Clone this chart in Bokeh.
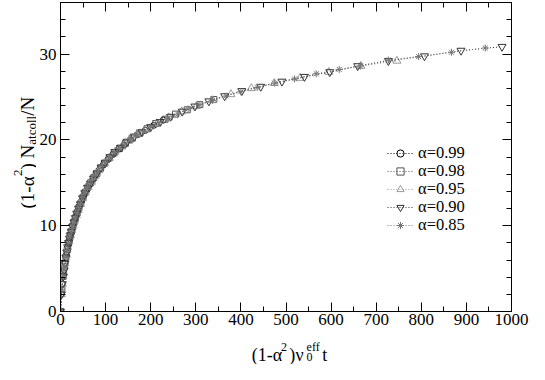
import math
from bokeh.plotting import figure
from bokeh.layouts import row, column
from bokeh.models import LinearAxis, FixedTicker, Range1d, Label, Legend, LegendItem
from bokeh.embed import file_html
from bokeh.resources import INLINE

# ---------------- data ----------------
series_labels = ["α=0.99", "α=0.98", "α=0.95", "α=0.90", "α=0.85"]

x99 = [0, 2, 4, 7, 10, 13, 16, 19, 22, 25, 28, 31, 34, 38, 42, 47, 52, 58, 64, 71,
       78, 86, 95, 105, 116, 128, 141, 155, 171, 188, 207, 228]
y99 = [0, 2.0, 3.2, 4.5, 5.6, 6.6, 7.5, 8.2, 8.9, 9.5, 10.0, 10.6, 11.1, 11.7, 12.3, 12.9,
       13.5, 14.1, 14.7, 15.3, 15.9, 16.5, 17.1, 17.7, 18.3, 18.9, 19.4, 20.0, 20.6, 21.1,
       21.7, 22.3]

x98 = [0, 3, 6, 9, 12, 15, 18, 21, 24, 27, 30, 33, 37, 41, 45, 50, 55, 61, 67, 74, 81,
       89, 98, 108, 119, 131, 144, 159, 175, 192, 211, 232, 255, 281, 309, 340]
y98 = [0, 2.6, 4.1, 5.2, 6.3, 7.2, 8.0, 8.7, 9.3, 9.9, 10.4, 10.9, 11.5, 12.1, 12.6, 13.3,
       13.9, 14.5, 15.0, 15.6, 16.1, 16.7, 17.3, 17.9, 18.5, 19.0, 19.6, 20.2, 20.8, 21.3,
       21.9, 22.4, 23.0, 23.5, 24.1, 24.7]

x95 = [0, 2, 4, 7, 10, 13, 16, 19, 22, 25, 28, 31, 35, 39, 44, 49, 55, 61, 69, 77, 86,
       97, 108, 121, 136, 152, 170, 191, 214, 240, 269, 301, 337, 378, 423, 474, 531, 595,
       666, 746]
y95 = [0, 2.0, 3.2, 4.5, 5.6, 6.6, 7.5, 8.2, 8.9, 9.5, 10.0, 10.6, 11.2, 11.8, 12.5, 13.2,
       13.9, 14.5, 15.1, 15.8, 16.5, 17.2, 17.9, 18.6, 19.2, 19.9, 20.6, 21.2, 21.9, 22.6,
       23.3, 23.9, 24.6, 25.3, 26.0, 26.6, 27.2, 27.9, 28.6, 29.2]

x90 = [0, 2, 4, 6, 8, 10, 12, 14, 16, 18, 20, 22, 24, 27, 30, 33, 36, 40, 44, 49, 54, 60,
       66, 73, 81, 90, 99, 110, 121, 134, 148, 164, 181, 200, 221, 244, 270, 298, 329, 364,
       402, 444, 491, 541, 597, 659, 727, 807, 888, 979]
y90 = [0, 2.0, 3.2, 4.1, 4.8, 5.6, 6.3, 6.9, 7.5, 8.0, 8.5, 8.9, 9.3, 9.9, 10.4, 10.9,
       11.4, 12.0, 12.5, 13.2, 13.8, 14.4, 14.9, 15.5, 16.1, 16.8, 17.3, 18.0, 18.6, 19.1,
       19.8, 20.4, 20.9, 21.5, 22.1, 22.7, 23.3, 23.9, 24.5, 25.1, 25.7, 26.2, 26.8, 27.35,
       27.9, 28.6, 29.2, 29.75, 30.4, 30.85]

x85 = [0, 3, 6, 9, 12, 15, 18, 21, 24, 27, 30, 33, 37, 41, 45, 50, 55, 60, 65, 71, 77,
       84, 92, 100, 109, 119, 130, 142, 155, 169, 184, 200, 218, 238, 260, 283, 309, 337,
       367, 400, 436, 475, 519, 567, 618, 665, 727, 794, 867, 942]
y85 = [0, 2.6, 4.1, 5.2, 6.3, 7.2, 8.0, 8.7, 9.3, 9.9, 10.4, 10.9, 11.5, 12.1, 12.6, 13.3,
       13.9, 14.4, 14.9, 15.4, 15.9, 16.4, 16.9, 17.4, 17.9, 18.5, 19.0, 19.5, 20.0, 20.6,
       21.0, 21.5, 22.0, 22.5, 23.0, 23.6, 24.1, 24.6, 25.1, 25.6, 26.1, 26.6, 27.1, 27.7,
       28.2, 28.6, 29.3, 29.7, 30.2, 30.7]

x_major = [0, 100, 200, 300, 400, 500, 600, 700, 800, 900, 1000]
x_minor = [50, 150, 250, 350, 450, 550, 650, 750, 850, 950]
y_major = [0, 10, 20, 30]
y_minor = [2, 4, 6, 8, 12, 14, 16, 18, 22, 24, 26, 28, 32, 34, 36]

# ---------------- layout ----------------
FONT = "Liberation Serif"
TOTAL_W, TOTAL_H = 529, 364
YT_W = 36                      # width of the y-title strip
MAIN_W = TOTAL_W - YT_W
MAIN_H = 334
XT_H = TOTAL_H - MAIN_H        # height of the x-title strip
EST_FRAME_BOTTOM = MAIN_H - 25  # expected picture y of the x axis

p = figure(width=MAIN_W, height=MAIN_H,
           x_range=Range1d(0, 1000), y_range=Range1d(0, 36),
           output_backend="svg", toolbar_location=None,
           min_border_left=22, min_border_right=18,
           min_border_top=2, min_border_bottom=23,
           background_fill_color="white", border_fill_color="white")
p.xgrid.visible = False
p.ygrid.visible = False
p.outline_line_color = "black"
p.outline_line_width = 1

xt = FixedTicker(ticks=x_major, minor_ticks=x_minor)
yt = FixedTicker(ticks=y_major, minor_ticks=y_minor)


def style_axis(ax, ticker, show_labels):
    ax.ticker = ticker
    ax.axis_label = None
    ax.axis_label_standoff = 0
    ax.axis_line_color = "black"
    ax.axis_line_width = 1
    ax.major_tick_in = 9
    ax.major_tick_out = 0
    ax.minor_tick_in = 5
    ax.minor_tick_out = 0
    ax.major_tick_line_color = "black"
    ax.minor_tick_line_color = "black"
    if show_labels:
        ax.major_label_text_font = FONT
        ax.major_label_text_font_size = "17px"
        ax.major_label_text_color = "black"
    else:
        ax.major_label_text_font_size = "0px"
        ax.major_label_text_color = None
        ax.major_label_standoff = 0


style_axis(p.xaxis[0], xt, True)
p.xaxis[0].major_label_standoff = 2
style_axis(p.yaxis[0], yt, True)
p.yaxis[0].major_label_standoff = 4

top_ax = LinearAxis()
style_axis(top_ax, xt, False)
p.add_layout(top_ax, "above")
right_ax = LinearAxis()
style_axis(right_ax, yt, False)
p.add_layout(right_ax, "right")

# ---------------- series ----------------
series = [
    (x99, y99, "circle", 6, "#000000"),
    (x98, y98, "square", 6, "#555555"),
    (x95, y95, "triangle", 8, "#9a9a9a"),
    (x90, y90, "inverted_triangle", 8, "#333333"),
    (x85, y85, "asterisk", 7, "#777777"),
]
# legend rows: centre of each row, in picture pixels
legend_rows = [151.5, 169.5, 187.5, 205.5, 223.5]
ROW_H = 18
for (xs, ys, marker, size, color), lab, cy in zip(series, series_labels, legend_rows):
    rl = p.line(xs, ys, line_color=color, line_dash="1 2", line_width=1)
    rs = p.scatter(xs, ys, marker=marker, size=size, line_color=color,
                   fill_alpha=0, line_width=1)
    leg = Legend(items=[LegendItem(label=lab, renderers=[rl, rs])],
                 location=(327, EST_FRAME_BOTTOM - (cy + ROW_H / 2)),
                 label_text_font=FONT, label_text_font_size="16.5px",
                 label_text_color="black", glyph_width=26, glyph_height=ROW_H,
                 label_height=ROW_H, spacing=0, padding=0, margin=0,
                 label_standoff=5, border_line_alpha=0,
                 background_fill_alpha=0)
    p.add_layout(leg)


# ---------------- title strips (text positioned in picture pixels) ----------------
def strip(w, h):
    f = figure(width=w, height=h, x_range=Range1d(0, w), y_range=Range1d(h, 0),
               output_backend="svg", toolbar_location=None, min_border=0,
               x_axis_location=None, y_axis_location=None,
               outline_line_color=None, background_fill_color="white",
               border_fill_color="white")
    f.grid.visible = False
    return f


def add_text(f, txt, x, y, size, angle=0.0):
    f.add_layout(Label(x=x, y=y, text=txt, text_font=FONT, text_font_size=size,
                       text_color="black", text_baseline="alphabetic",
                       text_align="left", angle=angle))


# y title strip: (1-α²) N_atcoll/N, reading upwards
yfig = strip(YT_W, TOTAL_H)
A = math.pi / 2
add_text(yfig, "(1-α", 27, 208, "19px", A)
add_text(yfig, "2", 17, 175.5, "13px", A)
add_text(yfig, ") N", 27, 169, "19px", A)
add_text(yfig, "atcoll", 30.5, 144.2, "13px", A)
add_text(yfig, "/N", 27, 115.3, "19px", A)

# x title strip: (1-α²)ν0^eff t   (x offset = YT_W, y offset = MAIN_H)
xfig = strip(MAIN_W, XT_H)
ox, oy = YT_W, MAIN_H
add_text(xfig, "(1-α", 245 - ox, 354 - oy, "18px")
add_text(xfig, "2", 277 - ox, 346 - oy, "12px")
add_text(xfig, ")", 286 - ox, 354 - oy, "18px")
add_text(xfig, "ν", 293 - ox, 354 - oy, "18px")
add_text(xfig, "0", 305 - ox, 356.5 - oy, "12px")
add_text(xfig, "eff", 305 - ox, 346 - oy, "12px")
add_text(xfig, "t", 322 - ox, 354 - oy, "18px")

layout = row(yfig, column(p, xfig, spacing=0), spacing=0)
open("out.html", "w").write(file_html(layout, INLINE))
